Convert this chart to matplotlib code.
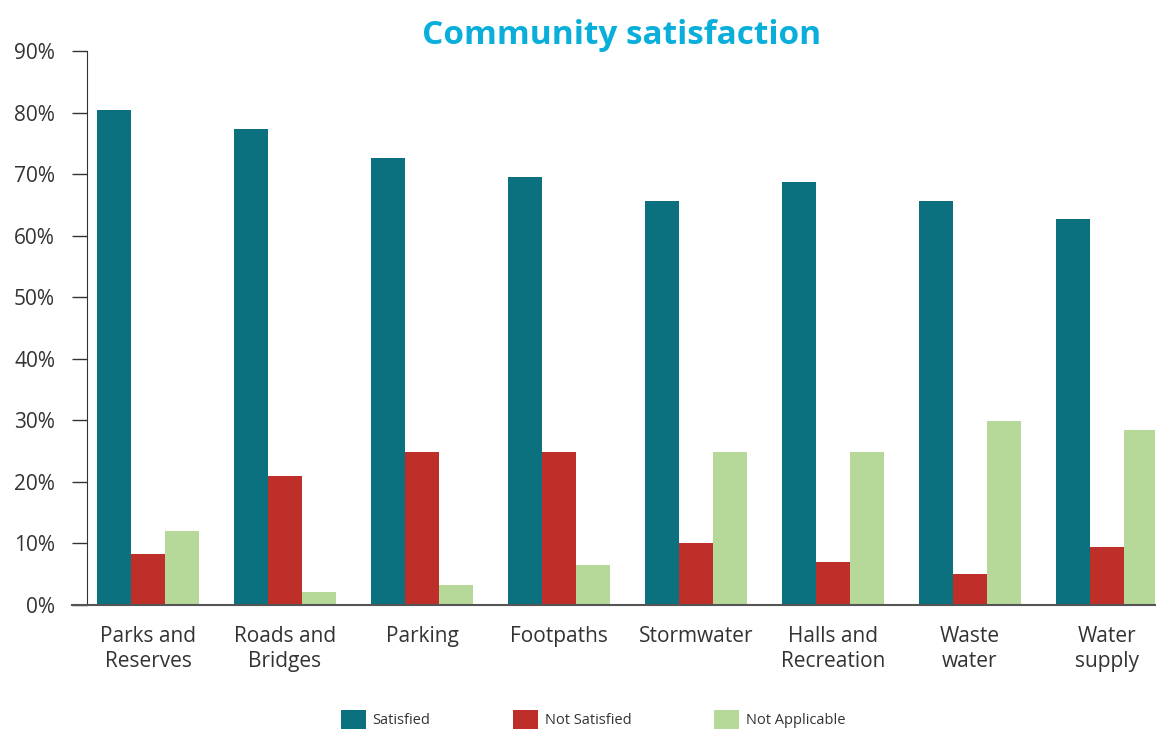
import matplotlib.pyplot as plt
import numpy as np
from matplotlib.ticker import PercentFormatter

plt.rcParams['font.family'] = ['Open Sans', 'DejaVu Sans']

categories = ["Parks and\nReserves", "Roads and\nBridges", "Parking", "Footpaths",
              "Stormwater", "Halls and\nRecreation", "Waste\nwater", "Water\nsupply"]
satisfied = [80.4, 77.3, 72.7, 69.5, 65.6, 68.8, 65.6, 62.8]
not_satisfied = [8.3, 20.9, 24.8, 24.8, 10.1, 7.0, 5.0, 9.4]
not_applicable = [12.0, 2.1, 3.2, 6.5, 24.8, 24.8, 29.9, 28.4]

series = [
    ("Satisfied", satisfied, "#0b717f"),
    ("Not Satisfied", not_satisfied, "#bf2f2a"),
    ("Not Applicable", not_applicable, "#b6d99a"),
]

fig = plt.figure(figsize=(11.56, 7.31), dpi=100)
ax = fig.add_axes([0.0753, 0.1724, 0.9237, 0.7576])

x = np.arange(len(categories))
w = 0.25
for i, (label, vals, color) in enumerate(series):
    ax.bar(x + (i - 1) * w, vals, width=w, color=color, label=label)

ax.set_xlim(-0.445, 7.35)
ax.set_ylim(0, 90)
ax.set_yticks(range(0, 91, 10))
ax.yaxis.set_major_formatter(PercentFormatter(decimals=0))
ax.set_xticks(x)
ax.set_xticklabels(categories, linespacing=1.25)
ax.tick_params(axis='y', length=11, width=1, color='#333333', labelsize=15,
               labelcolor='#333333', pad=12)
ax.tick_params(axis='x', length=0, labelsize=15, labelcolor='#333333', pad=15)

for s in ['top', 'right']:
    ax.spines[s].set_visible(False)
ax.spines['left'].set_color('#333333')
ax.spines['bottom'].set_color('#555555')
ax.spines['bottom'].set_bounds(-0.555, 7.35)
ax.spines['bottom'].set_linewidth(1.5)

fig.text(0.538, 0.951, "Community satisfaction", ha='center', va='center',
         fontsize=24, fontweight='bold', color='#0aaedb')

fig.legend(loc='center', bbox_to_anchor=(0.513, 0.0155), ncol=3, frameon=False,
           fontsize=10.5, handlelength=1.7, handleheight=1.65, handletextpad=0.45,
           columnspacing=5.7, labelcolor='#333333')

fig.savefig("out.png", dpi=100)
